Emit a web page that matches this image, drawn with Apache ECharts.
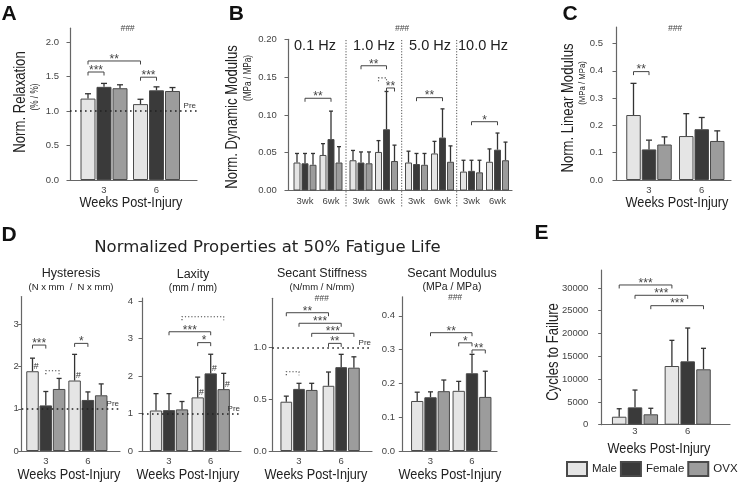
<!DOCTYPE html>
<html><head><meta charset="utf-8">
<script src="https://cdn.jsdelivr.net/npm/echarts@6/dist/echarts.min.js"></script>
<style>html,body{margin:0;padding:0;background:#fff}#c{width:744px;height:484px}</style>
</head><body><div id="c"></div>
<script>
// ================= DATA =================
const weeks = [3, 6];
const groups = ['Male', 'Female', 'OVX'];
const weekLabels = ['3', '6'];
const wkLabels = ['3wk', '6wk'];
const freqLabels = ['0.1 Hz', '1.0 Hz', '5.0 Hz', '10.0 Hz'];

// rows: week 3, week 6 ; columns: Male, Female, OVX
const relaxMean = [[1.18, 1.35, 1.33], [1.10, 1.30, 1.29]];
const relaxSD   = [[0.07, 0.05, 0.05], [0.07, 0.05, 0.05]];
const relaxTicks = [0, 0.5, 1.0, 1.5, 2.0];

const dynMean01 = [[0.037, 0.036, 0.034], [0.047, 0.068, 0.037]];
const dynSD01   = [[0.012, 0.013, 0.015], [0.015, 0.037, 0.021]];
const dynMean1  = [[0.040, 0.037, 0.036], [0.051, 0.081, 0.039]];
const dynSD1    = [[0.013, 0.014, 0.015], [0.015, 0.050, 0.021]];
const dynMean5  = [[0.037, 0.035, 0.034], [0.049, 0.070, 0.038]];
const dynSD5    = [[0.015, 0.014, 0.015], [0.016, 0.038, 0.021]];
const dynMean10 = [[0.025, 0.026, 0.024], [0.038, 0.054, 0.040]];
const dynSD10   = [[0.015, 0.014, 0.016], [0.017, 0.022, 0.024]];
const dynTicks = [0, 0.05, 0.10, 0.15, 0.20];

const linMean = [[0.238, 0.112, 0.130], [0.161, 0.186, 0.143]];
const linSD   = [[0.116, 0.034, 0.028], [0.082, 0.043, 0.037]];
const linTicks = [0, 0.1, 0.2, 0.3, 0.4, 0.5];

const hystMean = [[1.89, 1.08, 1.47], [1.67, 1.21, 1.32]];
const hystSD   = [[0.31, 0.33, 0.25], [0.62, 0.19, 0.27]];
const hystTicks = [0, 1, 2, 3];

const laxMean = [[1.08, 1.09, 1.11], [1.43, 2.07, 1.65]];
const laxSD   = [[0.45, 0.44, 0.21], [0.54, 0.51, 0.42]];
const laxTicks = [0, 1, 2, 3, 4];

const stiffMean = [[0.476, 0.600, 0.590], [0.630, 0.810, 0.805]];
const stiffSD   = [[0.054, 0.054, 0.064], [0.133, 0.124, 0.105]];
const stiffTicks = [0, 0.5, 1.0];

const secModMean = [[0.148, 0.159, 0.177], [0.178, 0.230, 0.160]];
const secModSD   = [[0.026, 0.016, 0.033], [0.028, 0.056, 0.076]];
const secModTicks = [0, 0.1, 0.2, 0.3, 0.4];

const cyclesMean = [[1750, 3800, 2280], [12870, 13900, 12150]];
const cyclesSD   = [[1750, 3800, 1320], [5630, 7300, 4600]];
const cyclesTicks = [0, 5000, 10000, 15000, 20000, 25000, 30000];

// significance brackets: [weekIdxFrom, groupFrom, weekIdxTo, groupTo, yValue, label, dotted]
const relaxSig = [[0,0,1,0,1.725,'**'],[0,0,0,1,1.565,'***'],[1,0,1,1,1.49,'***']];
const dynSig01 = [[0,1,1,1,0.122,'**']];
const dynSig1  = [[0,1,1,1,0.165,'**'],[1,0,1,1,0.149,'',1],[1,1,1,2,0.1356,'**']];
const dynSig5  = [[0,1,1,1,0.1228,'**']];
const dynSig10 = [[0,1,1,1,0.091,'*']];
const linSig   = [[0,0,0,1,0.397,'**']];
const hystSig  = [[0,0,0,1,2.51,'***'],[0,1,0,2,1.90,'',1],[1,0,1,1,2.55,'*']];
const laxSig   = [[0,2,1,2,3.58,'',1],[0,1,1,1,3.18,'***'],[1,0,1,1,2.89,'*']];
const stiffSig = [[0,0,1,0,1.336,'**'],[0,1,1,1,1.234,'***'],[0,2,1,2,1.137,'***'],[1,0,1,1,1.04,'**'],[0,0,0,1,0.766,'',1]];
const secModSig = [[0,1,1,1,0.35,'**'],[1,0,1,1,0.32,'*'],[1,1,1,2,0.299,'**']];
const cyclesSig = [[0,0,1,0,30640,'***'],[0,1,1,1,28380,'***'],[0,2,1,2,26100,'***']];
// '#' markers: [weekIdx, group]
const hystHash = [[0,0],[1,0]];
const laxHash = [[1,0],[1,1],[1,2]];

// ================= STYLE / LAYOUT =================
const fills = ['#e5e5e5', '#3a3a3a', '#9c9c9c'];
const border = '#4a4a4a';
const axisColor = '#666';

function hasFont(f) {
  const c = document.createElement('canvas').getContext('2d');
  const s = 'Weeks Post-Injury 0123';
  c.font = '20px monospace'; const a = c.measureText(s).width;
  c.font = '20px "' + f + '", monospace'; const b = c.measureText(s).width;
  return Math.abs(a - b) > 0.5;
}
const narrow = hasFont('Liberation Sans Narrow');
const NF = narrow ? 'Liberation Sans Narrow' : 'Liberation Sans';
const NS = narrow ? 1 : 0.82;

const grids = [], xAxes = [], yAxes = [], series = [];

function addPanel(L, d) {
  const gi = grids.length;
  const unit = (L.c[1] - L.c[0]) / (weeks[1] - weeks[0]);
  const xmin = weeks[0] - (L.c[0] - L.axisX) / unit;
  const xmax = xmin + (L.axisEnd - L.axisX) / unit;
  const h = L.yMax * L.ppu;
  grids.push({left: L.axisX, top: L.y0 - h, width: L.axisEnd - L.axisX, height: h, outerBoundsMode: 'none', containLabel: false});
  xAxes.push({
    type: 'value', gridIndex: gi, min: xmin, max: xmax,
    axisLine: {show: true, onZero: false, lineStyle: {color: axisColor, width: 1.2}},
    axisTick: {show: false},
    splitLine: {show: false},
    axisLabel: {show: true, customValues: weeks, margin: L.xm,
      formatter: v => d.xLabels[weeks.indexOf(v)] || '',
      fontSize: 9.5, color: '#444', fontFamily: 'Liberation Sans'}
  });
  yAxes.push({
    type: 'value', gridIndex: gi, min: 0, max: L.yMax, show: d.showY !== false,
    axisLine: {show: true, lineStyle: {color: axisColor, width: 1.2}},
    axisTick: {show: true, length: 3.5, customValues: d.ticks, lineStyle: {color: axisColor, width: 1}},
    splitLine: {show: false},
    axisLabel: {show: true, customValues: d.ticks, margin: L.lm,
      formatter: v => v.toFixed(L.dec), fontSize: 9.5, color: '#444', fontFamily: 'Liberation Sans'}
  });
  const step = L.barW + L.gap;
  groups.forEach((g, k) => {
    series.push({
      type: 'bar', name: g, xAxisIndex: gi, yAxisIndex: gi,
      barWidth: L.barW, barGap: (L.gap / L.barW * 100) + '%',
      data: weeks.map((w, i) => [w, d.mean[i][k]]),
      itemStyle: {color: fills[k], borderColor: border, borderWidth: 1},
      silent: true
    });
  });
  const errData = [];
  weeks.forEach((w, i) => groups.forEach((g, k) => errData.push([w, d.mean[i][k], d.sd[i][k], k])));
  const errSeries = {
    type: 'custom', xAxisIndex: gi, yAxisIndex: gi, silent: true, z: 3,
    data: errData, encode: {x: 0, y: 1},
    renderItem: (p, api) => {
      const w = api.value(0), m = api.value(1), s = api.value(2), k = api.value(3);
      const p0 = api.coord([w, m]), p1 = api.coord([w, m + s]);
      const cx = p0[0] + (k - 1) * step;
      const st = {stroke: '#333', lineWidth: 1.3};
      return {type: 'group', children: [
        {type: 'line', shape: {x1: cx, y1: p0[1], x2: cx, y2: p1[1]}, style: st},
        {type: 'line', shape: {x1: cx - L.cap / 2, y1: p1[1], x2: cx + L.cap / 2, y2: p1[1]}, style: st}
      ]};
    }
  };
  if (d.pre) {
    errSeries.markLine = {
      silent: true, symbol: 'none', animation: false,
      data: [{yAxis: 1}],
      lineStyle: {type: [1.6, 3.4], color: '#222', width: 1.6, cap: 'butt'},
      label: {show: true, position: 'insideEndTop', formatter: 'Pre', fontSize: 8, color: '#333', distance: 1, fontFamily: 'Liberation Sans'}
    };
  }
  series.push(errSeries);
  if (d.sig && d.sig.length) {
    series.push({
      type: 'custom', xAxisIndex: gi, yAxisIndex: gi, silent: true, z: 4,
      data: d.sig.map(b => [weeks[b[0]], b[4]]), encode: {x: 0, y: 1},
      renderItem: (p, api) => {
        const b = d.sig[p.dataIndex];
        const y = api.coord([weeks[b[0]], b[4]])[1];
        const x1 = api.coord([weeks[b[0]], b[4]])[0] + (b[1] - 1) * step;
        const x2 = api.coord([weeks[b[2]], b[4]])[0] + (b[3] - 1) * step;
        const dotted = !!b[6];
        const t = 3.5;
        const ch = [{type: 'polyline', shape: {points: [[x1, y + t], [x1, y], [x2, y], [x2, y + t]]},
          style: {stroke: '#444', lineWidth: dotted ? 1.1 : 1, fill: null, lineDash: dotted ? [1.2, 2] : null}}];
        if (b[5]) ch.push({type: 'text', x: (x1 + x2) / 2, y: y - 1.5,
          style: {text: b[5], fontSize: 12, fill: '#444', align: 'center', verticalAlign: 'middle', fontFamily: 'Liberation Sans'}});
        return {type: 'group', children: ch};
      }
    });
  }
  if (d.hash && d.hash.length) {
    series.push({
      type: 'custom', xAxisIndex: gi, yAxisIndex: gi, silent: true, z: 4,
      data: d.hash.map(h => [weeks[h[0]], d.mean[h[0]][h[1]], h[1]]), encode: {x: 0, y: 1},
      renderItem: (p, api) => {
        const pt = api.coord([api.value(0), api.value(1)]);
        const cx = pt[0] + (api.value(2) - 1) * step;
        return {type: 'text', x: cx + 3.6, y: pt[1] - 5,
          style: {text: '#', fontSize: 9, fontStyle: 'italic', fill: '#333', align: 'center', verticalAlign: 'middle', fontFamily: 'Liberation Sans'}};
      }
    });
  }
  return grids[gi];
}

// Panel A
addPanel({axisX: 70, axisEnd: 197, y0: 180, ppu: 69, yMax: 2.2, c: [104, 156.5], barW: 15, gap: 1, cap: 6, lm: 11, xm: 5.5, dec: 1},
  {mean: relaxMean, sd: relaxSD, ticks: relaxTicks, xLabels: weekLabels, sig: relaxSig, pre: true});
// Panel B (four frequency blocks)
const bCommon = {y0: 190.5, ppu: 756, yMax: 0.2, barW: 7, gap: 1, cap: 4, lm: 11.3, xm: 6, dec: 2};
const bBlocks = [
  Object.assign({axisX: 288, axisEnd: 346, c: [305, 331]}, bCommon),
  Object.assign({axisX: 346, axisEnd: 401.7, c: [361, 386.5]}, bCommon),
  Object.assign({axisX: 401.7, axisEnd: 456.7, c: [416.5, 442.5]}, bCommon),
  Object.assign({axisX: 456.7, axisEnd: 512, c: [471.5, 497.5]}, bCommon)
];
const bGrid = [];
bGrid.push(addPanel(bBlocks[0], {mean: dynMean01, sd: dynSD01, ticks: dynTicks, xLabels: wkLabels, sig: dynSig01}));
bGrid.push(addPanel(bBlocks[1], {mean: dynMean1, sd: dynSD1, ticks: dynTicks, xLabels: wkLabels, sig: dynSig1, showY: false}));
bGrid.push(addPanel(bBlocks[2], {mean: dynMean5, sd: dynSD5, ticks: dynTicks, xLabels: wkLabels, sig: dynSig5, showY: false}));
bGrid.push(addPanel(bBlocks[3], {mean: dynMean10, sd: dynSD10, ticks: dynTicks, xLabels: wkLabels, sig: dynSig10, showY: false}));
// Panel C
addPanel({axisX: 616, axisEnd: 731, y0: 180, ppu: 273, yMax: 0.56, c: [649, 701.75], barW: 14.5, gap: 1, cap: 6, lm: 13, xm: 5, dec: 1},
  {mean: linMean, sd: linSD, ticks: linTicks, xLabels: weekLabels, sig: linSig});
// Panel D
addPanel({axisX: 21.7, axisEnd: 120, y0: 451, ppu: 42.2, yMax: 3.66, c: [45.8, 87.9], barW: 12.5, gap: 0.8, cap: 5, lm: 3, xm: 5.5, dec: 0},
  {mean: hystMean, sd: hystSD, ticks: hystTicks, xLabels: weekLabels, sig: hystSig, hash: hystHash, pre: true});
addPanel({axisX: 142, axisEnd: 241, y0: 451, ppu: 37.5, yMax: 4.08, c: [169, 210.7], barW: 12.3, gap: 0.7, cap: 5, lm: 9, xm: 5.5, dec: 0},
  {mean: laxMean, sd: laxSD, ticks: laxTicks, xLabels: weekLabels, sig: laxSig, hash: laxHash, pre: true});
addPanel({axisX: 272.3, axisEnd: 372, y0: 451, ppu: 103.5, yMax: 1.475, c: [299, 341.2], barW: 11.7, gap: 1, cap: 5, lm: 5.6, xm: 5.5, dec: 1},
  {mean: stiffMean, sd: stiffSD, ticks: stiffTicks, xLabels: weekLabels, sig: stiffSig, pre: true});
addPanel({axisX: 402.3, axisEnd: 497, y0: 451, ppu: 338, yMax: 0.456, c: [430.5, 472], barW: 12.3, gap: 1, cap: 5, lm: 7.3, xm: 5.5, dec: 1},
  {mean: secModMean, sd: secModSD, ticks: secModTicks, xLabels: weekLabels, sig: secModSig});
// Panel E
addPanel({axisX: 601.7, axisEnd: 730, y0: 424.7, ppu: 22.8 / 5000, yMax: 33930, c: [635, 687.7], barW: 14.5, gap: 1.3, cap: 5, lm: 13.4, xm: 2, dec: 0},
  {mean: cyclesMean, sd: cyclesSD, ticks: cyclesTicks, xLabels: weekLabels, sig: cyclesSig});

// ================= TEXT =================
function T(text, x, y, o) {
  o = o || {};
  return {type: 'text', x: x, y: y, rotation: o.rot ? Math.PI / 2 : 0,
    scaleX: o.sx || 1, silent: true, z: 10,
    style: {text: text, fontSize: o.fs || 12, fontFamily: o.ff || 'Liberation Sans', fontWeight: o.fw || 'normal',
      fontStyle: o.fst || 'normal', fill: o.fill || '#222', align: 'center', verticalAlign: 'middle'}};
}
const nt = (fs, rot) => ({fs: fs, ff: NF, sx: NS, rot: rot});
const g = [];
// panel letters
[['A', 9, 14], ['B', 236.3, 14], ['C', 570, 14], ['D', 9, 235], ['E', 541.5, 233.7]].forEach(a =>
  g.push(T(a[0], a[1], a[2], {fs: 21, fw: 'bold', fill: '#111'})));
// y axis titles
g.push(T('Norm. Relaxation', 21, 102, nt(16, true)));
g.push(T('(% / %)', 35, 97, nt(10, true)));
g.push(T('Norm. Dynamic Modulus', 233, 117, nt(16, true)));
g.push(T('(MPa / MPa)', 248.5, 78, nt(10, true)));
g.push(T('Norm. Linear Modulus', 569, 108, nt(16, true)));
g.push(T('(MPa / MPa)', 582, 83, nt(9.5, true)));
g.push(T('Cycles to Failure', 554, 352, nt(16, true)));
// x axis titles
[[131, 203], [677, 203], [69, 475], [188, 475], [316, 475], [450, 475], [659, 449]].forEach(p =>
  g.push(T('Weeks Post-Injury', p[0], p[1], nt(15.5))));
// ### marks
[[127.5, 29], [402, 28.3], [675, 28.3], [321.7, 298.3], [455, 297.3]].forEach(p =>
  g.push(T('###', p[0], p[1], {fs: 8.5, fst: 'italic', fill: '#444'})));
// frequency labels
const hzX = [315, 374, 430, 483];
freqLabels.forEach((f, i) => g.push(T(f, hzX[i], 45.7, {fs: 14.5})));
// D title & subpanel titles
g.push(T('Normalized Properties at 50% Fatigue Life', 267.4, 248, {fs: 16.5, ff: 'DejaVu Sans'}));
g.push(T('Hysteresis', 71, 274, {fs: 12.5}));
g.push(T('(N x mm  /  N x mm)', 71, 287, {fs: 9.5}));
g.push(T('Laxity', 193, 275, {fs: 12.5}));
g.push(T('(mm / mm)', 193, 288, {fs: 10}));
g.push(T('Secant Stiffness', 322, 274, {fs: 12.5}));
g.push(T('(N/mm / N/mm)', 322, 287, {fs: 9.5}));
g.push(T('Secant Modulus', 452, 274, {fs: 12.5}));
g.push(T('(MPa / MPa)', 452, 287, {fs: 10.5}));
// frequency separators in B (at block boundaries)
bGrid.slice(1).forEach(gr => g.push({type: 'line', silent: true, z: 1,
  shape: {x1: gr.left, y1: 40, x2: gr.left, y2: 208},
  style: {stroke: '#555', lineWidth: 1, lineDash: [1.2, 1.6]}}));

const option = {
  animation: false,
  textStyle: {fontFamily: 'Liberation Sans'},
  grid: grids, xAxis: xAxes, yAxis: yAxes, series: series,
  legend: {data: groups, left: 566, top: 461, padding: 0, width: 178, itemWidth: 20, itemHeight: 14, itemGap: 3, icon: 'rect',
    selectedMode: false, textStyle: {fontSize: narrow ? 13 : 11.5, fontFamily: NF, color: '#222'}},
  graphic: {elements: g}
};
const chart = echarts.init(document.getElementById('c'), null, {renderer: 'canvas'});
chart.setOption(option);
</script></body></html>
